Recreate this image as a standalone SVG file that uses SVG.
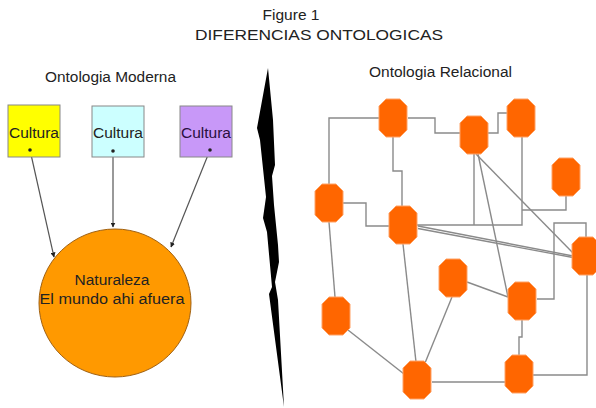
<svg xmlns="http://www.w3.org/2000/svg" xmlns:xlink="http://www.w3.org/1999/xlink" width="596" height="408" viewBox="0 0 596 408">
<style>
text{font-family:"Liberation Sans",Arial,sans-serif;fill:#222}
.t{font-size:15.5px}
.box{stroke:#888;stroke-width:1}
.net{fill:none;stroke:#8a8a8a;stroke-width:1.4}
.arr{stroke:#555;stroke-width:1.2;fill:none;marker-end:url(#ah)}
.oct{fill:#ff6600;stroke:#ffa266;stroke-width:1}
.dot{fill:#222}
</style>
<defs>
<marker id="ah" viewBox="0 0 10 10" refX="9" refY="5" markerWidth="5" markerHeight="5" orient="auto" markerUnits="userSpaceOnUse"><path d="M0,0 L10,5 L0,10 z" fill="#222"/></marker>
<polygon id="o" class="oct" points="-7,-19 7,-19 14,-12 14,12 7,19 -7,19 -14,12 -14,-12"/>
</defs>
<rect width="596" height="408" fill="#fff"/>
<text x="291" y="20" class="t" text-anchor="middle">Figure 1</text>
<text x="195" y="40" class="t" font-size="16" textLength="248" lengthAdjust="spacingAndGlyphs">DIFERENCIAS ONTOLOGICAS</text>
<text x="45" y="82" class="t" textLength="131" lengthAdjust="spacingAndGlyphs">Ontologia Moderna</text>
<text x="369" y="77" class="t" textLength="143" lengthAdjust="spacingAndGlyphs">Ontologia Relacional</text>
<polygon points="268,68 273,120 275,165 272,176 274,205 278,245 279,262 275,282 278,300 284,407 269,294 272,287 267,232 263,218 266,197 260,140 257,128" fill="#000"/>
<g id="connectors">
<path class="arr" d="M30,150 L54,257"/>
<path class="arr" d="M113,151 L113,227"/>
<path class="arr" d="M210,150 L171,247"/>
<path class="net" d="M379,118 H329 V184"/>
<path class="net" d="M408,118 H435 V133 H460"/>
<path class="net" d="M393,137 V171 H402 V206"/>
<path class="net" d="M343,203 H366 V226 H389"/>
<path class="net" d="M417,225 H522 V137"/>
<path class="net" d="M474,154 V225"/>
<path class="net" d="M488,133 H498 V113 H507"/>
<path class="net" d="M566,196 V210 H522"/>
<path class="net" d="M476,154 L573,253"/>
<path class="net" d="M478,154 L508,297"/>
<path class="net" d="M418,226 L573,256"/>
<path class="net" d="M418,228.5 L573,257.5"/>
<path class="net" d="M329,222 L335,297"/>
<path class="net" d="M348,330 L404,374"/>
<path class="net" d="M403,244 L416,362"/>
<path class="net" d="M452,297 L425,363"/>
<path class="net" d="M467,282 L508,297"/>
<path class="net" d="M586,238 V223 H554 V299 H537"/>
<path class="net" d="M587,275 V375 H533"/>
<path class="net" d="M522,320 V337 H519 V355"/>
<path class="net" d="M432,382 H505"/>
</g>
<g id="cultura1"><rect class="box" x="8" y="105" width="52" height="52" fill="#ffff00"/><text x="34" y="138" class="t" text-anchor="middle" textLength="50" lengthAdjust="spacingAndGlyphs">Cultura</text><circle class="dot" cx="30" cy="150" r="1.8"/></g>
<g id="cultura2"><rect class="box" x="92" y="106" width="52" height="51" fill="#ccffff"/><text x="118" y="138" class="t" text-anchor="middle" textLength="50" lengthAdjust="spacingAndGlyphs">Cultura</text><circle class="dot" cx="113" cy="151" r="1.8"/></g>
<g id="cultura3"><rect class="box" x="180" y="106" width="52" height="51" fill="#c898f8"/><text x="206" y="138" class="t" text-anchor="middle" textLength="50" lengthAdjust="spacingAndGlyphs" style="fill:#2a1040">Cultura</text><circle class="dot" cx="210" cy="150" r="1.8"/></g>
<g id="naturaleza"><ellipse cx="115" cy="303" rx="76" ry="74" fill="#ff9900" stroke="#a06010" stroke-width="1"/><text x="112" y="285" class="t" text-anchor="middle">Naturaleza</text><text x="112" y="304" class="t" text-anchor="middle" textLength="145" lengthAdjust="spacingAndGlyphs">El mundo ahi afuera</text></g>
<g id="nA"><use xlink:href="#o" x="393" y="118"/></g>
<g id="nB"><use xlink:href="#o" x="329" y="203"/></g>
<g id="nC"><use xlink:href="#o" x="403" y="225"/></g>
<g id="nD"><use xlink:href="#o" x="474" y="135"/></g>
<g id="nE"><use xlink:href="#o" x="521" y="118"/></g>
<g id="nF"><use xlink:href="#o" x="566" y="177"/></g>
<g id="nG"><use xlink:href="#o" x="586" y="256"/></g>
<g id="nH"><use xlink:href="#o" x="522" y="301"/></g>
<g id="nI"><use xlink:href="#o" x="519" y="374"/></g>
<g id="nJ"><use xlink:href="#o" x="417" y="380"/></g>
<g id="nK"><use xlink:href="#o" x="453" y="278"/></g>
<g id="nL"><use xlink:href="#o" x="336" y="316"/></g>
</svg>
